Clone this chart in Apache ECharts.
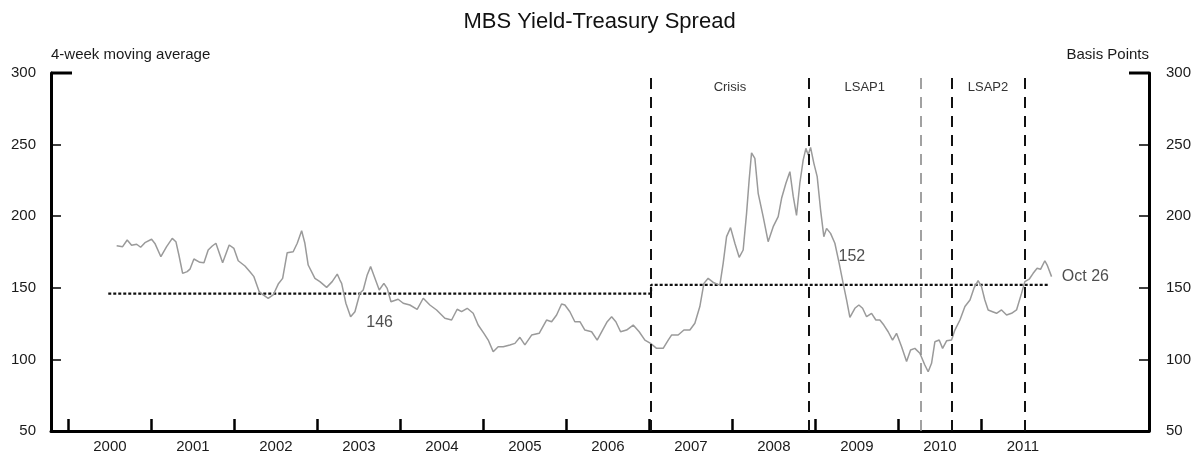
<!DOCTYPE html>
<html>
<head>
<meta charset="utf-8">
<script src="https://cdn.jsdelivr.net/npm/echarts@6/dist/echarts.min.js"></script>
<style>
html,body{margin:0;padding:0;background:#fff;}
#chart{width:1199px;height:459px;}
</style>
</head>
<body>
<div id="chart"></div>
<script>
// ---- data (decimal years, basis points) ----
const dates = [
2000.581,2000.653,2000.708,2000.761,2000.822,2000.870,2000.922,2001.002,2001.042,2001.114,
2001.183,2001.251,2001.295,2001.331,2001.376,2001.431,2001.464,2001.512,2001.584,2001.633,
2001.684,2001.733,2001.777,2001.858,2001.937,2001.994,2002.046,2002.127,2002.187,2002.235,
2002.299,2002.347,2002.407,2002.467,2002.528,2002.581,2002.636,2002.708,2002.757,2002.810,
2002.849,2002.889,2002.970,2003.030,2003.111,2003.178,2003.239,2003.271,2003.292,2003.343,
2003.400,2003.452,2003.512,2003.552,2003.600,2003.641,2003.693,2003.745,2003.801,2003.841,
2003.886,2003.973,2004.034,2004.114,2004.202,2004.275,2004.355,2004.436,2004.536,2004.617,
2004.684,2004.737,2004.805,2004.877,2004.937,2005.006,2005.058,2005.118,2005.178,2005.239,
2005.319,2005.380,2005.440,2005.500,2005.581,2005.672,2005.761,2005.822,2005.882,2005.942,
2005.982,2006.042,2006.102,2006.163,2006.223,2006.304,2006.371,2006.436,2006.492,2006.545,
2006.596,2006.653,2006.725,2006.805,2006.877,2006.946,2007.014,2007.087,2007.166,2007.227,
2007.267,2007.347,2007.416,2007.488,2007.548,2007.608,2007.657,2007.708,2007.777,2007.849,
2007.889,2007.930,2007.978,2008.030,2008.082,2008.130,2008.171,2008.202,2008.231,2008.271,
2008.311,2008.371,2008.431,2008.492,2008.552,2008.593,2008.645,2008.693,2008.733,2008.773,
2008.813,2008.853,2008.886,2008.913,2008.942,2008.982,2009.022,2009.063,2009.102,2009.135,
2009.183,2009.235,2009.287,2009.335,2009.376,2009.416,2009.476,2009.524,2009.569,2009.617,
2009.677,2009.729,2009.777,2009.825,2009.877,2009.930,2009.978,2010.039,2010.099,2010.147,
2010.199,2010.259,2010.319,2010.359,2010.400,2010.440,2010.492,2010.533,2010.581,2010.641,
2010.681,2010.742,2010.802,2010.863,2010.911,2010.961,2011.002,2011.042,2011.082,2011.135,
2011.183,2011.243,2011.304,2011.364,2011.424,2011.484,2011.524,2011.576,2011.624,2011.672,
2011.713,2011.765,2011.793,2011.846
];
const spread = [
179.4,178.7,183.4,179.7,180.4,178.3,181.5,183.9,181.0,171.7,
178.7,184.5,182.2,172.9,160.1,161.3,163.0,170.1,167.8,167.5,
176.4,179.2,181.1,167.5,179.9,177.5,168.9,165.2,161.2,157.8,
147.3,145.0,142.7,145.0,152.6,156.6,174.5,175.2,181.1,189.9,
181.1,165.9,156.6,154.3,150.3,154.3,159.6,155.4,153.1,139.2,
129.8,133.3,146.2,148.5,159.0,164.8,156.6,148.5,153.1,149.6,
140.3,142.0,139.2,138.0,135.0,142.7,138.0,134.5,128.7,127.5,
135.0,133.3,135.7,132.2,124.0,118.2,113.5,105.4,108.9,108.9,
110.1,111.2,115.4,110.1,117.0,118.2,127.5,126.3,131.0,138.7,
138.0,133.3,126.3,126.3,120.5,119.3,113.5,120.5,126.3,129.8,
126.3,119.3,120.5,124.0,119.3,113.5,111.2,107.7,107.7,113.5,
117.0,117.0,120.5,120.5,125.2,136.9,153.1,156.6,153.5,151.9,
167.1,185.7,192.0,181.1,171.3,176.4,202.0,225.3,244.3,240.4,
216.0,199.7,182.2,192.7,199.7,212.5,223.0,231.1,214.0,200.5,
223.0,239.2,247.4,242.7,248.0,236.9,227.6,204.3,185.7,191.5,
188.0,181.1,167.1,153.1,141.5,129.4,135.7,138.0,135.7,129.8,
132.2,127.5,127.5,124.0,119.3,113.5,118.2,108.9,98.5,106.6,
107.7,104.3,96.1,91.4,97.3,112.3,113.5,107.7,113.0,113.5,
120.5,127.5,136.9,141.5,149.7,155.0,150.8,141.5,134.5,133.3,
132.2,134.5,131.0,132.2,134.5,146.1,154.3,156.0,160.1,163.6,
162.9,168.9,165.9,157.8
];
// period averages (dotted step line)
const avgDates = [2000.48, 2007.02, 2007.02, 2011.81];
const avgValues = [146, 146, 152, 152];
// event lines: crisis start, LSAP1 start, LSAP1 end, LSAP2 start, LSAP2 end
const eventDates = [2007.02, 2008.92, 2010.27, 2010.64, 2011.52];
const periodNames = ['Crisis', 'LSAP1', 'LSAP2'];
const periodStart = [2007.02, 2008.92, 2010.64];
const periodEnd = [2008.92, 2010.27, 2011.52];
// annotation texts
const annText = ['146', '152', 'Oct 26'];
const annX = [2003.75, 2009.44, 2011.97];
const annY = [125.4, 171.5, 157.5];
const annAlign = ['center', 'center', 'left'];
// axes
const yearTicks = [2000,2001,2002,2003,2004,2005,2006,2007,2008,2009,2010,2011];
const yearLabelPos = [2000.5,2001.5,2002.5,2003.5,2004.5,2005.5,2006.5,2007.5,2008.5,2009.5,2010.5,2011.5];
const yMin = 50, yMax = 300, yStep = 50;

const FONT = '"Liberation Sans", Arial, sans-serif';
const G = {left: 51, right: 50, top: 73, bottom: 28};
const W = 1199;

const chart = echarts.init(document.getElementById('chart'), null, {renderer: 'canvas'});

const lineData = dates.map((d, i) => [d, spread[i]]);
const avgData = avgDates.map((d, i) => [d, avgValues[i]]);
const annData = annX.map((x, i) => ({
  value: [x, annY[i]], name: annText[i],
  label: {align: annAlign[i]}
}));

const evMarks = eventDates.map((d, i) => ({
  xAxis: d,
  lineStyle: i === 2 ? {color: '#8a8a8a', width: 1.6, type: [11, 8]} : {color: '#111', width: 2, type: [11, 8]}
}));
const areaMarks = periodNames.map((n, i) => [
  {xAxis: periodStart[i], name: n},
  {xAxis: periodEnd[i]}
]);

const yAxisCommon = {
  type: 'value', min: yMin, max: yMax, interval: yStep,
  axisLine: {show: true, lineStyle: {color: '#000', width: 3}},
  axisTick: {show: true, inside: true, length: 10, lineStyle: {color: '#000', width: 1.5}},
  splitLine: {show: false},
  axisLabel: {fontFamily: FONT, fontSize: 15, color: '#1a1a1a'},
  nameLocation: 'end',
  nameGap: 11
};

chart.setOption({
  animation: false,
  backgroundColor: '#fff',
  title: {
    text: 'MBS Yield-Treasury Spread', left: 'center', top: 6,
    textStyle: {fontFamily: FONT, fontSize: 22, fontWeight: 'normal', color: '#111'}
  },
  grid: {left: G.left, right: G.right, top: G.top, bottom: G.bottom, containLabel: false},
  xAxis: {
    type: 'value', min: 1999.79, max: 2013.02,
    axisLine: {show: true, onZero: false, lineStyle: {color: '#000', width: 3}},
    axisTick: {show: true, inside: true, length: 12, customValues: yearTicks, lineStyle: {color: '#000', width: 2.5}},
    axisLabel: {customValues: yearLabelPos, formatter: v => String(Math.floor(v)), margin: 8,
      fontFamily: FONT, fontSize: 15, color: '#1a1a1a'},
    splitLine: {show: false}
  },
  yAxis: [
    Object.assign({}, yAxisCommon, {
      position: 'left', name: '4-week moving average',
      nameTextStyle: {align: 'left', verticalAlign: 'bottom', fontFamily: FONT, fontSize: 15, color: '#1a1a1a'},
      axisLabel: Object.assign({}, yAxisCommon.axisLabel, {margin: 15})
    }),
    Object.assign({}, yAxisCommon, {
      position: 'right', name: 'Basis Points',
      nameTextStyle: {align: 'right', verticalAlign: 'bottom', fontFamily: FONT, fontSize: 15, color: '#1a1a1a'},
      axisLabel: Object.assign({}, yAxisCommon.axisLabel, {margin: 17})
    })
  ],
  graphic: [
    {type: 'line', shape: {x1: G.left, y1: G.top, x2: G.left + 21, y2: G.top}, style: {stroke: '#000', lineWidth: 3}, z: 100},
    {type: 'line', shape: {x1: W - G.right - 20, y1: G.top, x2: W - G.right, y2: G.top}, style: {stroke: '#000', lineWidth: 3}, z: 100}
  ],
  series: [
    {
      name: 'events', type: 'line', data: [], silent: true,
      markLine: {silent: true, symbol: ['none', 'none'], label: {show: false}, data: evMarks},
      markArea: {
        silent: true, itemStyle: {color: 'rgba(0,0,0,0)'},
        label: {show: true, position: 'insideTop', distance: 8, fontFamily: FONT, fontSize: 13, color: '#333'},
        data: areaMarks
      }
    },
    {
      name: 'average', type: 'line', data: avgData, symbol: 'none', silent: true,
      lineStyle: {color: '#111', width: 2.2, type: [3, 2]}, z: 3
    },
    {
      name: 'spread', type: 'line', data: lineData, symbol: 'none', smooth: false,
      lineStyle: {color: '#9a9a9a', width: 1.5}, z: 4
    },
    {
      name: 'notes', type: 'scatter', data: annData, symbolSize: 0, silent: true,
      label: {show: true, position: 'inside', formatter: p => p.name,
        fontFamily: FONT, fontSize: 16, color: '#222'}
    }
  ]
});
</script>
</body>
</html>
